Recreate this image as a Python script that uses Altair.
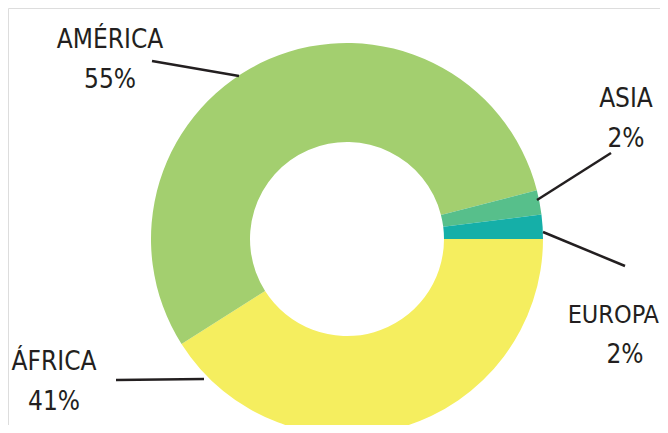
import math
import altair as alt
import pandas as pd

# Data
regions = ["ÁFRICA", "AMÉRICA", "ASIA", "EUROPA"]
shares = [41, 55, 2, 2]
pct_labels = ["41%", "55%", "2%", "2%"]
colors = ["#F5EE5F", "#A3CF6F", "#57BF8B", "#15AFA8"]

df = pd.DataFrame({"region": regions, "share": shares, "order": list(range(len(regions)))})

# Layout (chart pixel coordinates) for annotations
CX, CY = 339, 231
R_OUT, R_IN = 196, 97
label_x = [46, 102, 618, 651]
label_align = ["center", "center", "center", "right"]
label_size = [26, 26, 26, 25]
pct_x = [46, 102, 618, 617]
name_y = [362, 40, 99, 315]
pct_y = [402, 80, 139, 355]
lead_x1 = [108, 144, 603, 535]
lead_y1 = [372, 53, 145, 224]
lead_x2 = [196, 231, 529, 617]
lead_y2 = [371, 68, 192, 258]

FONT = "DejaVu Sans Condensed, DejaVu Sans, sans-serif"
INK = "#231F20"

donut = alt.Chart(df).mark_arc(radius=R_OUT, innerRadius=R_IN, strokeWidth=0).encode(
    theta=alt.Theta("share:Q", stack=True,
                    scale=alt.Scale(range=[math.pi / 2, math.pi / 2 + 2 * math.pi])),
    order=alt.Order("order:Q"),
    color=alt.Color("region:N", scale=alt.Scale(domain=regions, range=colors), legend=None),
    x=alt.value(CX),
    y=alt.value(CY),
)

rows = []
for i, r in enumerate(regions):
    rows.append({"t": r, "x": label_x[i], "y": name_y[i], "a": label_align[i], "s": label_size[i]})
    rows.append({"t": pct_labels[i], "x": pct_x[i], "y": pct_y[i], "a": "center", "s": 26})
lab = pd.DataFrame(rows)

label_layers = []
for a in ["center", "right"]:
    for s in sorted(set(lab["s"])):
        sub = lab[(lab["a"] == a) & (lab["s"] == s)]
        if len(sub) == 0:
            continue
        label_layers.append(
            alt.Chart(sub).mark_text(
                font=FONT, fontSize=int(s), color=INK, align=a, baseline="alphabetic"
            ).encode(
                x=alt.X("x:Q", scale=None),
                y=alt.Y("y:Q", scale=None),
                text="t:N",
            )
        )

leads = pd.DataFrame({"x": lead_x1, "y": lead_y1, "x2": lead_x2, "y2": lead_y2})
lines = alt.Chart(leads).mark_rule(color=INK, strokeWidth=2.5).encode(
    x=alt.X("x:Q", scale=None),
    y=alt.Y("y:Q", scale=None),
    x2="x2:Q",
    y2="y2:Q",
)

chart = alt.layer(donut, lines, *label_layers).properties(
    width=652, height=417,
    autosize=alt.AutoSizeParams(type="none"),
    padding=0,
).configure_view(stroke="transparent", strokeWidth=0).configure(background="white")

chart.save("out.html", embed_options={"renderer": "svg", "actions": False})
